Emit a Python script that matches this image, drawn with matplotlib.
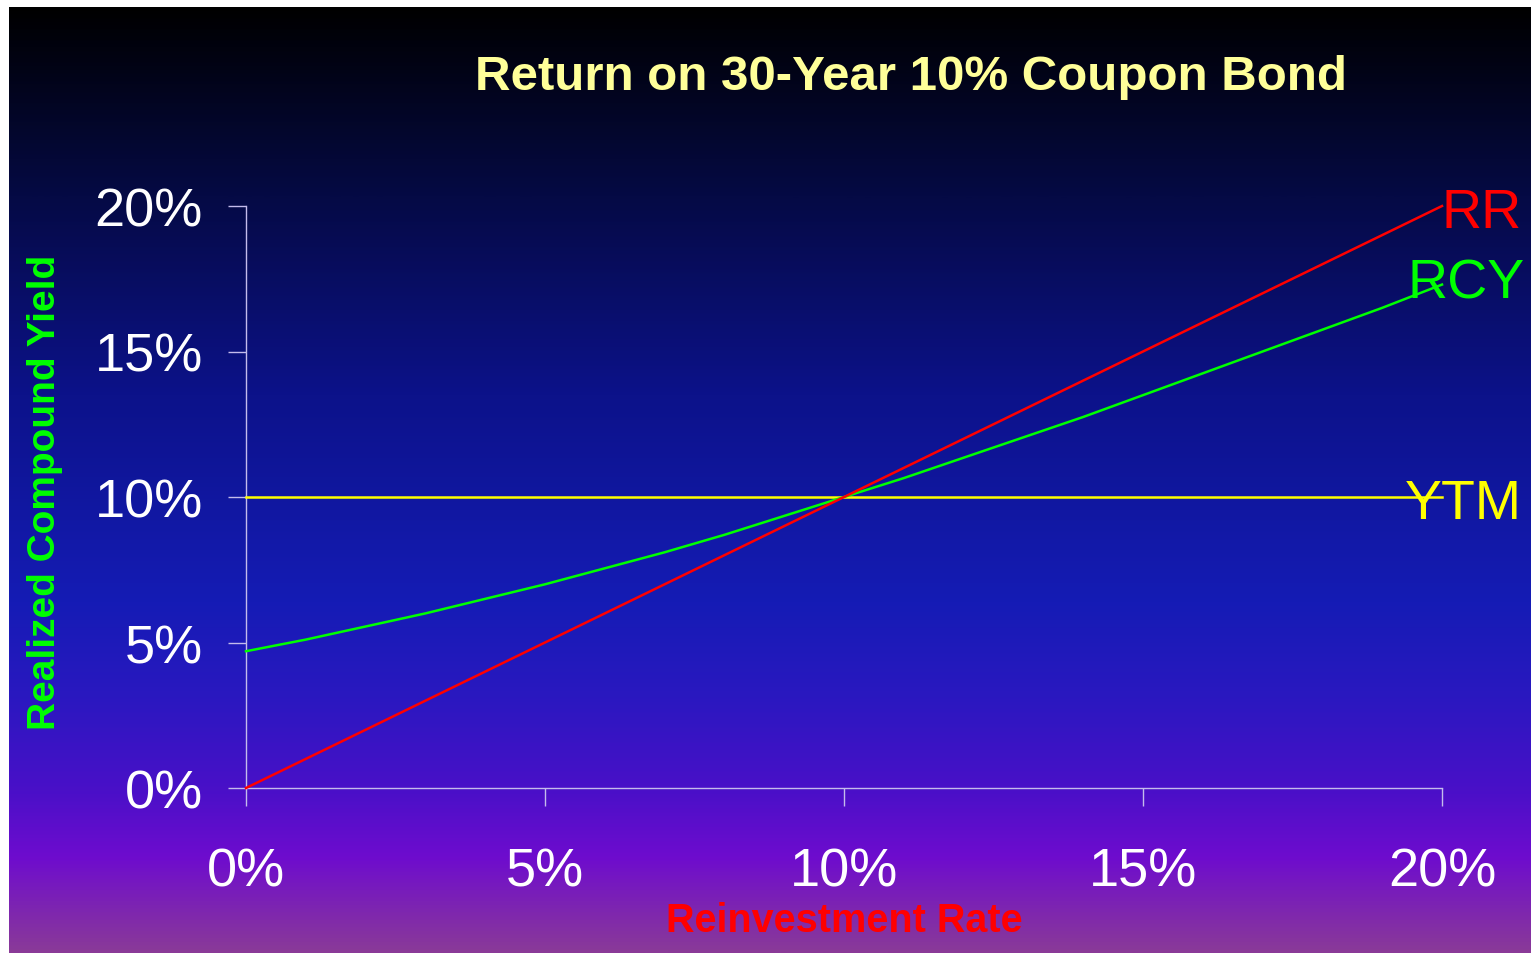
import numpy as np
import matplotlib
matplotlib.use("Agg")
import matplotlib.pyplot as plt
from matplotlib.colors import LinearSegmentedColormap
from matplotlib.ticker import FuncFormatter

plt.rcParams['font.family'] = ['Liberation Sans', 'DejaVu Sans']

# reinvestment rate (%) and resulting returns (%)
reinvest_rate = [0, 1, 2, 3, 4, 5, 6, 7, 8, 9, 10, 11, 12, 13, 14, 15, 16, 17, 18, 19, 20]
rr = [0, 1, 2, 3, 4, 5, 6, 7, 8, 9, 10, 11, 12, 13, 14, 15, 16, 17, 18, 19, 20]
rcy = [4.7, 5.1, 5.55, 6.0, 6.5, 7.0, 7.55, 8.1, 8.7, 9.35, 10.0, 10.65, 11.35,
       12.05, 12.75, 13.5, 14.25, 15.0, 15.75, 16.5, 17.3]
ytm = 10
ticks = [0, 5, 10, 15, 20]

W, H = 1531, 954
fig = plt.figure(figsize=(W / 100, H / 100), dpi=100, facecolor="white")

# slide-style gradient background
bg = fig.add_axes([9 / W, 0, 1 - 9 / W, 1 - 8 / H])
grad_cmap = LinearSegmentedColormap.from_list("slide", [
    (0.00, "#000000"),
    (0.20, "#050a45"),
    (0.41, "#0c128a"),
    (0.63, "#151cb5"),
    (0.73, "#2a18c0"),
    (0.83, "#4a10c8"),
    (0.90, "#6e0cce"),
    (1.00, "#8a3a98"),
])
bg.imshow(np.linspace(0, 1, 512).reshape(-1, 1), aspect="auto", cmap=grad_cmap,
          extent=[0, 1, 1, 0])
bg.set_axis_off()

ax = fig.add_axes([246 / W, 1 - 789 / H, (1442 - 246) / W, (789 - 207) / H])
ax.set_facecolor("none")

ax.plot(reinvest_rate, [ytm] * len(reinvest_rate), color="#ffff00", lw=1.8, clip_on=False, zorder=3)
ax.plot(reinvest_rate, rcy, color="#00ff00", lw=1.8, clip_on=False, zorder=4)
ax.plot(reinvest_rate, rr, color="#ff0000", lw=1.8, clip_on=False, zorder=5)

ax.set_xlim(0, 20)
ax.set_ylim(0, 20)
ax.set_xticks(ticks)
ax.set_yticks(ticks)
pct = FuncFormatter(lambda v, p: f"{v:.0f}%")
ax.xaxis.set_major_formatter(pct)
ax.yaxis.set_major_formatter(pct)

axis_col = "#c4bcec"
for side in ["top", "right"]:
    ax.spines[side].set_visible(False)
for side in ["left", "bottom"]:
    ax.spines[side].set_color(axis_col)
    ax.spines[side].set_linewidth(1.0)
ax.tick_params(axis="both", direction="out", length=13, width=1.0, color=axis_col,
               labelcolor="white", labelsize=39)
ax.tick_params(axis="x", pad=29)
ax.tick_params(axis="y", pad=18)

fig.text(911 / W, 1 - 78 / H, "Return on 30-Year 10% Coupon Bond", color="#ffff99",
         fontsize=35.5, fontweight="bold", ha="center", va="center")
fig.text(844 / W, 1 - 921 / H, "Reinvestment Rate", color="#ff0000",
         fontsize=28.5, fontweight="bold", ha="center", va="center")
fig.text(45 / W, 1 - 492 / H, "Realized Compound Yield", color="#00ff00",
         fontsize=28, fontweight="bold", ha="center", va="center", rotation=90)

# series labels at the right end of each line
fig.text(1441 / W, 1 - 228 / H, "RR", color="#ff0000", fontsize=40, ha="left", va="baseline")
fig.text(1408 / W, 1 - 299 / H, "RCY", color="#00ff00", fontsize=40, ha="left", va="baseline")
fig.text(1405 / W, 1 - 519 / H, "YTM", color="#ffff00", fontsize=40, ha="left", va="baseline")

fig.savefig("out.png", dpi=100, facecolor="white")
